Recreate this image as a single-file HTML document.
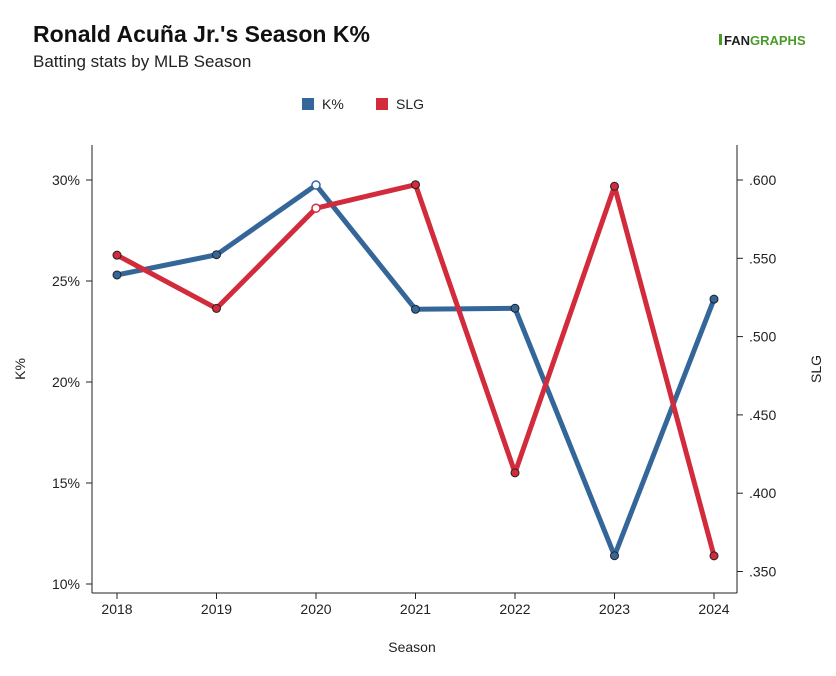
<!DOCTYPE html>
<html><head><meta charset="utf-8"><style>
body{margin:0;background:#fff;font-family:"Liberation Sans",sans-serif;}
#wrap{position:relative;width:836px;height:676px;overflow:hidden;}
</style></head><body>
<div id="wrap">
<svg id="chart" width="836" height="676">
<text x="33" y="42" font-size="23" font-weight="bold" fill="#111">Ronald Acuña Jr.'s Season K%</text>
<text x="33" y="67" font-size="17" fill="#222">Batting stats by MLB Season</text>
<g><rect x="719" y="34" width="3" height="11" fill="#4a9a2a"/><text x="724" y="45" font-size="13" font-weight="bold" fill="#222">FAN<tspan fill="#4a9a2a">GRAPHS</tspan></text></g>
<g>
<g><rect x="302" y="98" width="12" height="12" fill="#356699"/><text x="322" y="109" font-size="14" fill="#222">K%</text></g>
<g><rect x="376" y="98" width="12" height="12" fill="#d22b3c"/><text x="396" y="109" font-size="14" fill="#222">SLG</text></g>
</g>
<line x1="92" y1="145" x2="92" y2="593" stroke="#222"/>
<line x1="737" y1="145" x2="737" y2="593" stroke="#222"/>
<line x1="92" y1="593" x2="737" y2="593" stroke="#222"/>
<text transform="translate(25,369) rotate(-90)" font-size="14" text-anchor="middle" fill="#222">K%</text>
<text transform="translate(821,369) rotate(-90)" font-size="14" text-anchor="middle" fill="#222">SLG</text>
<text x="412" y="652" font-size="14" text-anchor="middle" fill="#222">Season</text>
<g id="g"></g>
</svg>
</div>
<script>
const seasons=[2018,2019,2020,2021,2022,2023,2024];
const kPct=[25.3,26.3,29.75,23.6,23.65,11.4,24.1];
const slg=[0.552,0.518,0.582,0.597,0.413,0.596,0.360];
const kTicks=[10,15,20,25,30];
const slgTicks=[0.35,0.40,0.45,0.50,0.55,0.60];
const NS="http://www.w3.org/2000/svg";
const g=document.getElementById('g');
const xS=i=>117+i*99.5;
const yK=v=>180+(30-v)*20.2;
const yS=v=>180+(0.6-v)*1566;
function mk(t,a){const e=document.createElementNS(NS,t);for(const k in a)e.setAttribute(k,a[k]);g.appendChild(e);return e;}
kTicks.forEach(v=>{const y=yK(v);
const l=mk('line',{x1:86,x2:92,y1:y,y2:y,stroke:'#222'});


const t=mk('text',{x:80,y:y+5,'font-size':14,'text-anchor':'end',fill:'#222'});t.textContent=v+'%';

});
slgTicks.forEach(v=>{const y=yS(v);
const l=mk('line',{x1:737,x2:743,y1:y,y2:y,stroke:'#222'});


const t=mk('text',{x:749,y:y+5,'font-size':14,fill:'#222'});t.textContent=v.toFixed(3).replace(/^0/,'');

});
seasons.forEach((s,i)=>{const x=xS(i);
const l=mk('line',{x1:x,x2:x,y1:593,y2:599,stroke:'#222'});


const t=mk('text',{x:x,y:614,'font-size':14,'text-anchor':'middle',fill:'#222'});t.textContent=s;

});
function series(vals,ys,color,name){
const p=mk('polyline',{points:vals.map((v,i)=>xS(i)+','+ys(v)).join(' '),fill:'none',stroke:color,'stroke-width':5,'stroke-linejoin':'round'});


vals.forEach((v,i)=>{const hollow=seasons[i]===2020;
const c=mk('circle',{cx:xS(i),cy:ys(v),r:4,fill:hollow?'#fff':color,stroke:hollow?color:'#222','stroke-width':hollow?1.5:1});

});}
series(kPct,yK,'#356699','k-pct');
series(slg,yS,'#d22b3c','slg');
</script>
</body></html>
